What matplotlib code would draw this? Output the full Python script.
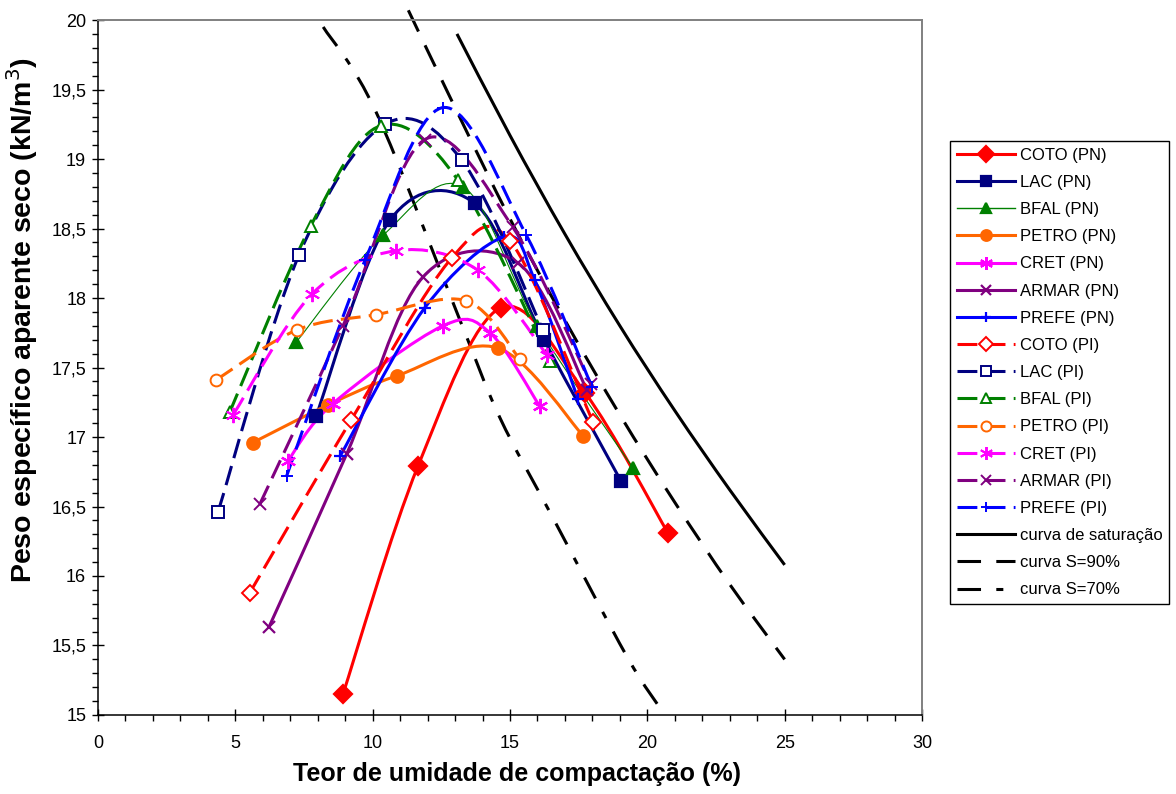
import numpy as np
import matplotlib

matplotlib.use("Agg")
import matplotlib.pyplot as plt  # noqa: E402
from matplotlib.path import Path  # noqa: E402
from matplotlib.patches import PathPatch  # noqa: E402
from matplotlib.lines import Line2D  # noqa: E402
from matplotlib.ticker import MultipleLocator, FuncFormatter  # noqa: E402

plt.rcParams["font.family"] = ["Liberation Sans", "DejaVu Sans"]

# compaction curves: moisture (%) and dry unit weight (kN/m3)
coto_pn_w = [8.92, 11.65, 14.67, 17.73, 20.75]
coto_pn_g = [15.15, 16.79, 17.93, 17.32, 16.31]
lac_pn_w = [7.94, 10.63, 13.72, 16.24, 19.05]
lac_pn_g = [17.15, 18.56, 18.68, 17.70, 16.68]
bfal_pn_w = [7.21, 10.38, 13.29, 16.0, 19.47]
bfal_pn_g = [17.68, 18.45, 18.80, 17.80, 16.78]
petro_pn_w = [5.64, 8.37, 10.88, 14.56, 17.66]
petro_pn_g = [16.96, 17.23, 17.44, 17.64, 17.01]
cret_pn_w = [6.92, 8.55, 12.56, 14.27, 16.09]
cret_pn_g = [16.83, 17.24, 17.80, 17.75, 17.22]
armar_pn_w = [6.22, 9.06, 11.83, 15.3, 17.8]
armar_pn_g = [15.63, 16.88, 18.15, 18.25, 17.34]
prefe_pn_w = [8.81, 11.9, 14.8, 15.9, 17.48]
prefe_pn_g = [16.86, 17.93, 18.44, 18.13, 17.27]

coto_pi_w = [5.53, 9.21, 12.89, 15.0, 18.02]
coto_pi_g = [15.88, 17.12, 18.29, 18.41, 17.11]
lac_pi_w = [4.37, 7.32, 10.45, 13.25, 16.2]
lac_pi_g = [16.46, 18.31, 19.25, 18.99, 17.77]
bfal_pi_w = [4.8, 7.75, 10.3, 13.1, 16.45]
bfal_pi_g = [17.18, 18.52, 19.24, 18.85, 17.55]
petro_pi_w = [4.3, 7.24, 10.12, 13.4, 15.36]
petro_pi_g = [17.41, 17.77, 17.88, 17.98, 17.56]
cret_pi_w = [4.92, 7.8, 10.85, 13.83, 16.35]
cret_pi_g = [17.16, 18.03, 18.34, 18.2, 17.59]
armar_pi_w = [5.9, 8.92, 11.9, 15.1, 17.95]
armar_pi_g = [16.52, 17.80, 19.14, 18.51, 17.38]
prefe_pi_w = [6.87, 9.72, 12.56, 15.6, 17.98]
prefe_pi_g = [16.72, 18.27, 19.37, 18.45, 17.36]

# saturation lines
sat_w = [13.07, 15, 17, 19, 21, 23, 25]
sat_g = [19.90, 19.17, 18.46, 17.80, 17.19, 16.62, 16.08]
s90_w = [11.3, 13, 15, 17, 19, 21, 23, 25]
s90_g = [20.07, 19.37, 18.57, 17.84, 17.16, 16.53, 15.94, 15.40]
s70_w = [8.2, 10.12, 13.18, 14.63, 16.56, 19.26, 20.57]
s70_g = [19.95, 19.34, 17.84, 17.14, 16.42, 15.42, 15.02]

RED, NAVY, GREEN, ORANGE = "#FF0000", "#000080", "#008000", "#FF6600"
MAGENTA, PURPLE, BLUE = "#FF00FF", "#800080", "#0000FF"
AST = (6, 2, 0)
DASH = (0, (6.5, 2.7))

series = [
    ("COTO (PN)", coto_pn_w, coto_pn_g, RED, "D", True, "-", 2.2),
    ("LAC (PN)", lac_pn_w, lac_pn_g, NAVY, "s", True, "-", 2.2),
    ("BFAL (PN)", bfal_pn_w, bfal_pn_g, GREEN, "^", True, "-", 0.8),
    ("PETRO (PN)", petro_pn_w, petro_pn_g, ORANGE, "o", True, "-", 2.2),
    ("CRET (PN)", cret_pn_w, cret_pn_g, MAGENTA, AST, True, "-", 2.2),
    ("ARMAR (PN)", armar_pn_w, armar_pn_g, PURPLE, "x", True, "-", 2.2),
    ("PREFE (PN)", prefe_pn_w, prefe_pn_g, BLUE, "+", True, "-", 2.2),
    ("COTO (PI)", coto_pi_w, coto_pi_g, RED, "D", False, DASH, 2.2),
    ("LAC (PI)", lac_pi_w, lac_pi_g, NAVY, "s", False, DASH, 2.2),
    ("BFAL (PI)", bfal_pi_w, bfal_pi_g, GREEN, "^", False, DASH, 2.2),
    ("PETRO (PI)", petro_pi_w, petro_pi_g, ORANGE, "o", False, DASH, 2.2),
    ("CRET (PI)", cret_pi_w, cret_pi_g, MAGENTA, AST, False, DASH, 2.2),
    ("ARMAR (PI)", armar_pi_w, armar_pi_g, PURPLE, "x", False, DASH, 2.2),
    ("PREFE (PI)", prefe_pi_w, prefe_pi_g, BLUE, "+", False, DASH, 2.2),
]
ref_lines = [
    ("curva de saturação", sat_w, sat_g, "-"),
    ("curva S=90%", s90_w, s90_g, (0, (7.7, 5))),
    ("curva S=70%", s70_w, s70_g, (0, (7.7, 5, 2.3, 5))),
]


def smooth_path(xs, ys):
    # Excel-like smoothed line: cubic Bezier through every point
    pts = np.column_stack([xs, ys]).astype(float)
    n = len(pts)
    verts, codes = [pts[0]], [Path.MOVETO]
    for i in range(n - 1):
        p0 = pts[i - 1] if i > 0 else pts[i]
        p1, p2 = pts[i], pts[i + 1]
        p3 = pts[i + 2] if i + 2 < n else pts[i + 1]
        verts += [p1 + (p2 - p0) / 6, p2 - (p3 - p1) / 6, p2]
        codes += [Path.CURVE4] * 3
    return Path(verts, codes)


fig = plt.figure(figsize=(11.76, 7.94), dpi=100)
ax = fig.add_axes([0.0833, 0.0995, 0.7007, 0.8753])

handles = []
for k, (label, w, g, color, marker, filled, ls, lw) in enumerate(series):
    ax.add_patch(PathPatch(smooth_path(w, g), fill=False, ec=color, lw=lw,
                           ls=ls, capstyle="butt", zorder=3 + k * 0.01))
    ms = 9 if filled else 8.5
    if marker == AST:
        ms = 11
    mkw = dict(marker=marker, ms=ms, mec=color, mew=1.6 if filled else 1.4,
               mfc=color if filled else "white")
    ax.plot(w, g, ls="none", zorder=4 + k * 0.01, **mkw)
    handles.append(Line2D([], [], color=color, lw=lw if lw > 1 else 1.0,
                          ls=ls, **mkw))

for label, w, g, ls in ref_lines:
    ax.add_patch(PathPatch(smooth_path(w, g), fill=False, ec="black", lw=2.2,
                           ls=ls, capstyle="butt", zorder=2, clip_on=False))
    handles.append(Line2D([], [], color="black", lw=2.2, ls=ls))

ax.set_xlim(0, 30)
ax.set_ylim(15, 20)
ax.xaxis.set_major_locator(MultipleLocator(5))
ax.xaxis.set_minor_locator(MultipleLocator(1))
ax.yaxis.set_major_locator(MultipleLocator(0.5))
ax.yaxis.set_minor_locator(MultipleLocator(0.1))
ax.yaxis.set_major_formatter(FuncFormatter(lambda v, p: f"{v:g}".replace(".", ",")))
ax.tick_params(which="major", direction="inout", length=9, width=1, labelsize=13)
ax.tick_params(axis="x", which="major", pad=10)
ax.tick_params(axis="y", which="major", pad=4)
ax.tick_params(which="minor", direction="out", length=4.5, width=1)
for side in ("top", "right"):
    ax.spines[side].set_color("#808080")
    ax.spines[side].set_linewidth(1.4)
for side in ("bottom", "left"):
    ax.spines[side].set_linewidth(1.1)

ax.set_xlabel("Teor de umidade de compactação (%)", fontsize=18, fontweight="bold")
ax.set_ylabel("Peso específico aparente seco (kN/m$^3$)", fontsize=20.5,
              fontweight="bold")
ax.xaxis.set_label_coords(0.5085, -0.0676)
ax.yaxis.set_label_coords(-0.0704, 0.568)

labels = [s[0] for s in series] + [r[0] for r in ref_lines]
leg = fig.legend(handles, labels, loc="upper left",
                 bbox_to_anchor=(950 / 1176, 1 - 141 / 794), borderaxespad=0,
                 fontsize=12, handlelength=3.5, handletextpad=0.3,
                 labelspacing=0.73, borderpad=0.4, fancybox=False,
                 edgecolor="black", framealpha=1, markerscale=0.85)
leg.get_frame().set_linewidth(1.0)

fig.savefig("out.png", dpi=100)
plt.close(fig)
